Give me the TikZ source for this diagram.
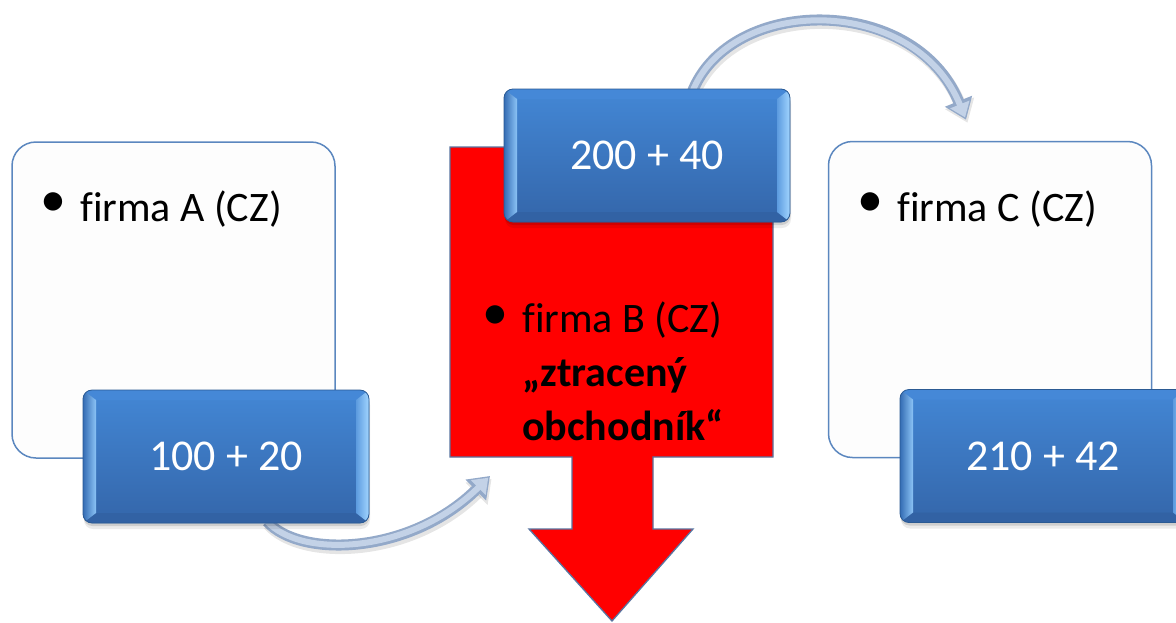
\documentclass[tikz,border=0pt]{standalone}
\usepackage{fontspec}
\setmainfont{Carlito}[Ligatures=NoCommon]
\usetikzlibrary{arrows.meta,calc}
\pgfdeclarelayer{paper}
\pgfdeclarelayer{under}
\pgfsetlayers{paper,under,main}

% palette
\definecolor{faceTop}{HTML}{4387D5}
\definecolor{faceBot}{HTML}{3466AA}
\definecolor{bevL1}{HTML}{346CB4}
\definecolor{bevL2}{HTML}{8CC4F6}
\definecolor{bevR1}{HTML}{5C9BDF}
\definecolor{bevR2}{HTML}{A2D5FF}
\definecolor{bevT}{HTML}{4588D7}
\definecolor{bevB}{HTML}{3262A4}
\definecolor{btnEdge}{HTML}{2B5A93}
\definecolor{cardEdge}{HTML}{5B87BF}
\definecolor{cardFill}{HTML}{FDFDFD}
\definecolor{flowOut}{HTML}{93A9C9}
\definecolor{flowIn}{HTML}{C3D2E7}
\definecolor{lossRed}{HTML}{FF0000}
\definecolor{lossEdge}{HTML}{5874A0}

\tikzset{
  card/.style={draw=cardEdge, line width=1.5pt, fill=cardFill, rounded corners=24pt,
    minimum width=323pt, minimum height=316pt, inner sep=0pt},
  cardtext/.style={anchor=base west, inner sep=0pt, font=\fontsize{42}{54}\selectfont},
  bulletmark/.style={inner sep=0pt, font=\fontsize{52}{54}\selectfont},
  btn/.style={
    minimum width=286pt, minimum height=133pt, inner sep=0pt,
    rounded corners=9pt, draw=btnEdge, line width=0.8pt,
    top color=faceTop, bottom color=faceBot,
    text=white, font=\fontsize{44}{53}\selectfont,
    preaction={fill=black, opacity=0.08, transform canvas={xshift=1pt,yshift=-6pt}},
    preaction={fill=black, opacity=0.12, transform canvas={xshift=0.5pt,yshift=-3pt}},
    path picture={
      \coordinate (pnw) at (path picture bounding box.north west);
      \coordinate (pne) at (path picture bounding box.north east);
      \coordinate (psw) at (path picture bounding box.south west);
      \coordinate (pse) at (path picture bounding box.south east);
      \fill[sharp corners, bevT] (pnw) -- (pne) -- ($(pne)+(-13pt,-10pt)$) -- ($(pnw)+(13pt,-10pt)$) -- cycle;
      \fill[sharp corners, bevB] (psw) -- (pse) -- ($(pse)+(-13pt,10pt)$) -- ($(psw)+(13pt,10pt)$) -- cycle;
      \path[sharp corners, left color=bevL1, right color=bevL2] (pnw) -- (psw) -- ($(psw)+(13pt,10pt)$) -- ($(pnw)+(13pt,-10pt)$) -- cycle;
      \path[sharp corners, left color=bevR1, right color=bevR2] (pne) -- (pse) -- ($(pse)+(-13pt,10pt)$) -- ($(pne)+(-13pt,-10pt)$) -- cycle;
    }
  },
  loss/.style={draw=lossEdge, line width=1.3pt, fill=lossRed, line join=miter},
  flowshadow/.style={draw=black, opacity=0.10, line width=12pt,
    -{Triangle[width=30pt,length=21pt]}, transform canvas={xshift=1.5pt,yshift=-3pt}},
  flowout/.style={draw=flowOut, line width=11pt, -{Triangle[width=28pt,length=20pt]}},
  flowin/.style={draw=flowIn, line width=6pt, shorten >=2.5pt,
    -{Triangle[width=20pt,length=14pt]}},
}

\begin{document}
\begin{tikzpicture}[x=1pt,y=-1pt]
\useasboundingbox (0,0) rectangle (1176,622);
\begin{pgfonlayer}{paper}
  \fill[white] (0,0) rectangle (1176,622);
\end{pgfonlayer}

% the two companies on either side
\node[card] (cardA) at (173.5,300) {};
\node[card] (cardC) at (990,299.5) {};
\node[bulletmark] (dotA) at (53,205) {•};
\node[cardtext] (txtA) at (80,221) {firma A (CZ)};
\node[bulletmark] (dotC) at (870,205) {•};
\node[cardtext] (txtC) at (897,221) {firma C (CZ)};

% the missing trader: block with a downward arrow
\path[loss] (450,147) -- (773,147) -- (773,457) -- (653,457) -- (653,529)
  -- (693,529) -- (612,621) -- (529,529) -- (572,529) -- (572,457)
  -- (450,457) -- cycle;
\node[bulletmark] (dotB) at (495,318) {•};
% base anchor of a multi-line node sits on its last line
\node[cardtext, align=left] (txtB) at (522,440)
  {firma B (CZ)\\\textbf{„ztracený}\\\textbf{obchodník“}};

% invoice amounts
\node[btn] (n1) at (226,456.5) {100 + 20};
\node[btn] (n2) at (647,155.5) {200 + 40};
\node[btn] (n3) at (1043,456) {210 + 42};

% flow of goods
\coordinate (intoB) at (490,476);
\coordinate (intoC) at ([xshift=-24pt,yshift=21pt]cardC.north);
\begin{pgfonlayer}{under}
  \foreach \s in {flowshadow,flowout,flowin}{
    \draw[\s] ([xshift=41pt,yshift=2pt]n1.south) .. controls +(33,37) and +(-80,79) .. (intoB);
    \draw[\s] ([xshift=45pt,yshift=-4pt]n2.north) .. controls +(38,-98) and +(-51,-126) .. (intoC);
  }
\end{pgfonlayer}
\end{tikzpicture}
\end{document}
